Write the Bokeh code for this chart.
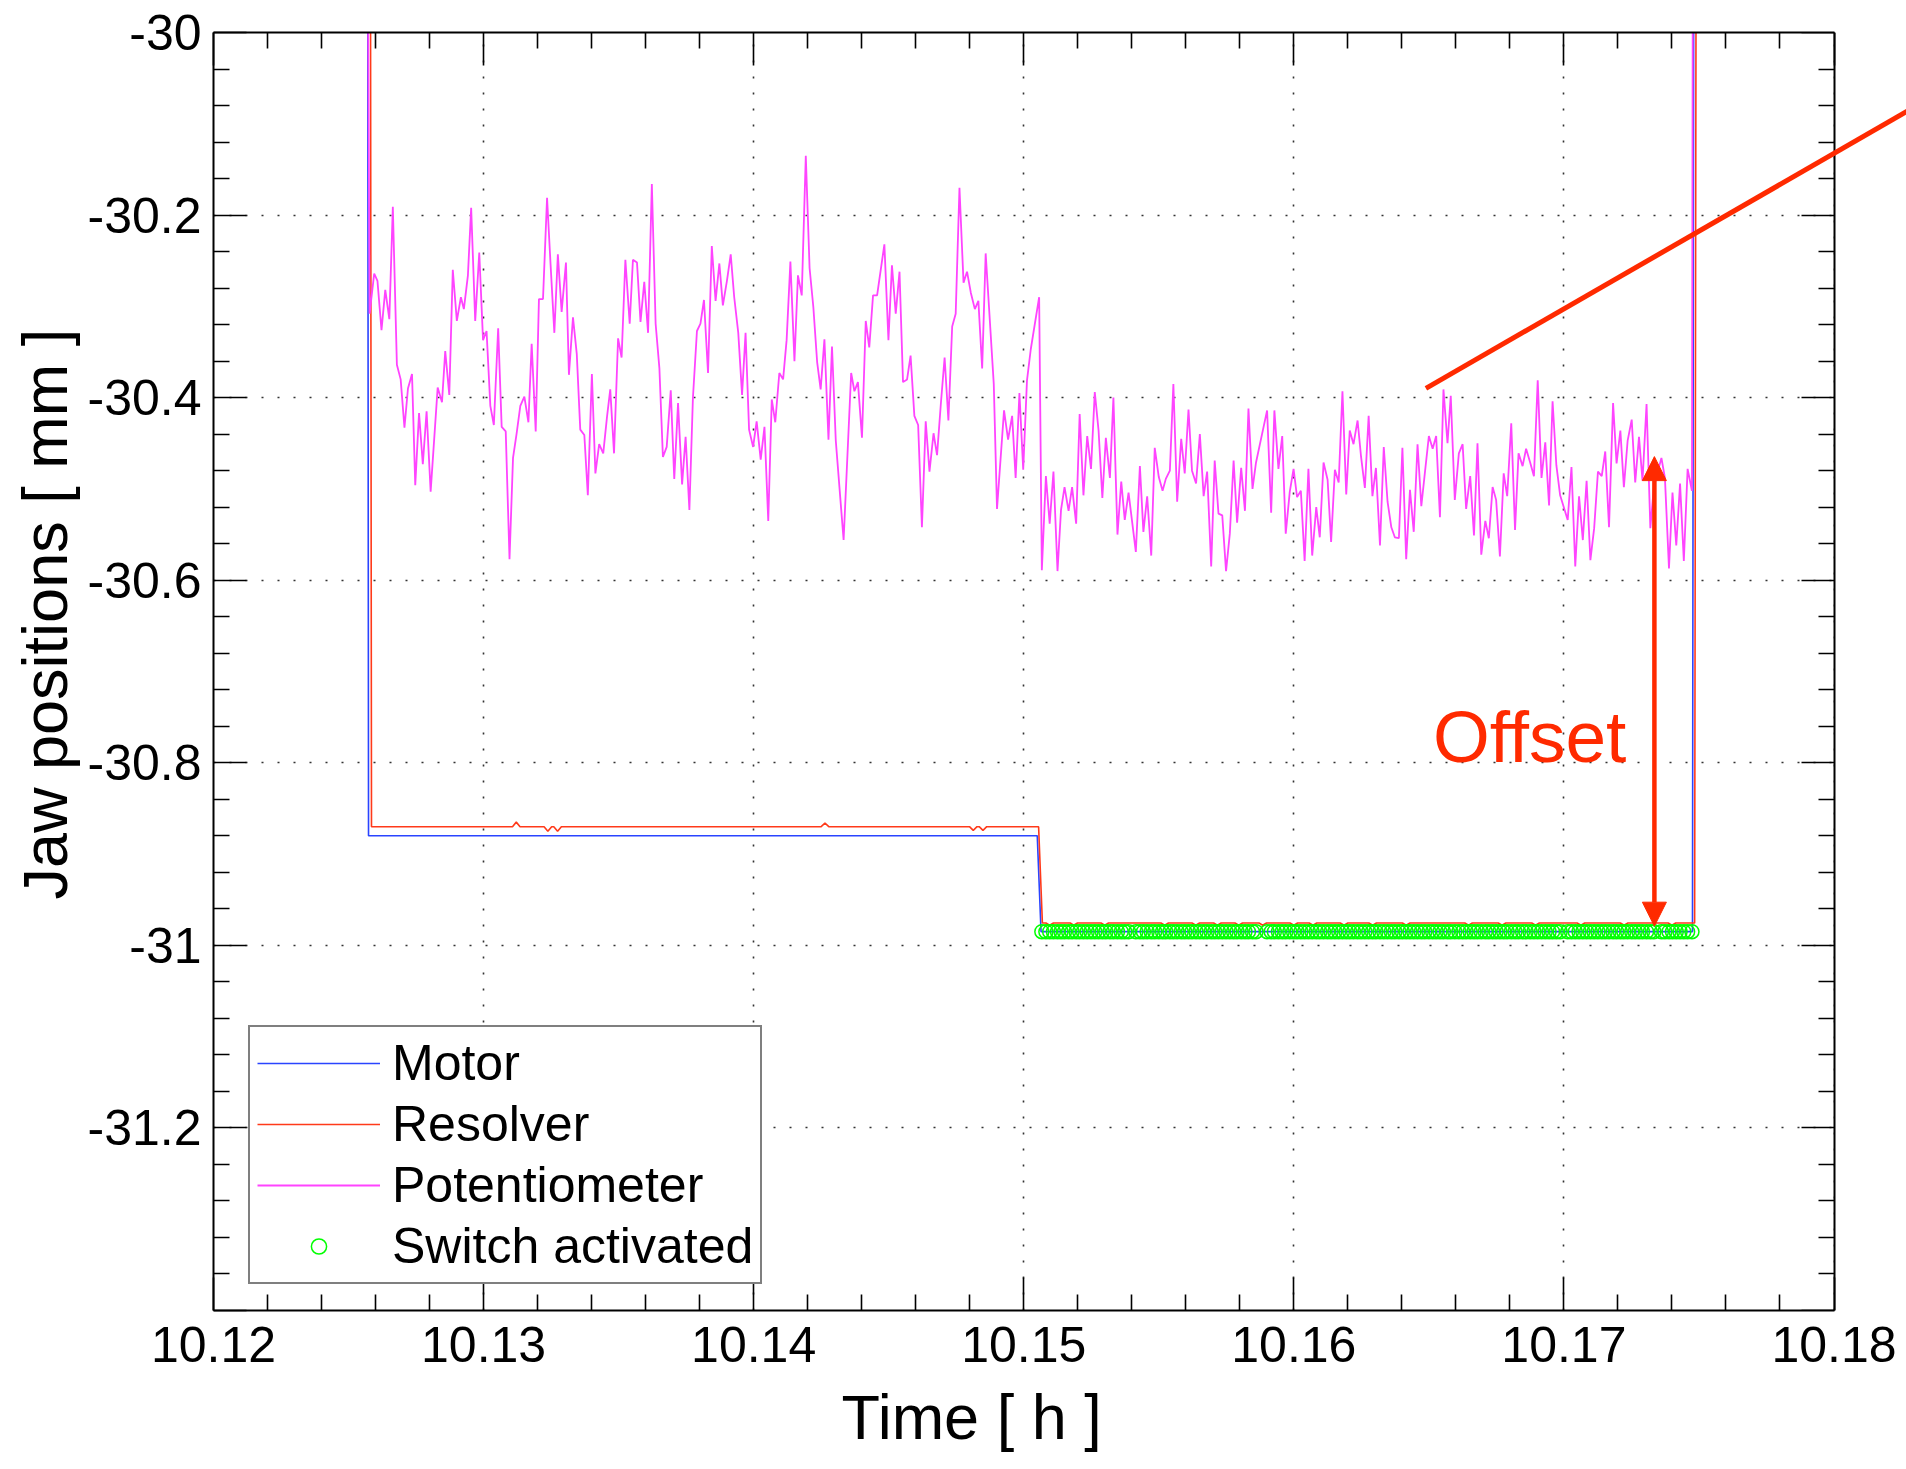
from bokeh.plotting import figure
from bokeh.models import (Range1d, FixedTicker, LinearAxis, Legend, LegendItem, Label,
                          Arrow, NormalHead, CustomJSTickFormatter, ColumnDataSource,
                          BoxAnnotation, Title)
from bokeh.embed import file_html
from bokeh.resources import INLINE

# ---------------- data ----------------
x_major_ticks = [10.12, 10.13, 10.14, 10.15, 10.16, 10.17, 10.18]
x_minor_ticks = [10.122, 10.124, 10.126, 10.128, 10.132, 10.134, 10.136, 10.138,
                 10.142, 10.144, 10.146, 10.148, 10.152, 10.154, 10.156, 10.158,
                 10.162, 10.164, 10.166, 10.168, 10.172, 10.174, 10.176, 10.178]
y_major_ticks = [-31.4, -31.2, -31.0, -30.8, -30.6, -30.4, -30.2, -30.0]
y_minor_ticks = [-31.36, -31.32, -31.28, -31.24, -31.16, -31.12, -31.08, -31.04,
                 -30.96, -30.92, -30.88, -30.84, -30.76, -30.72, -30.68, -30.64,
                 -30.56, -30.52, -30.48, -30.44, -30.36, -30.32, -30.28, -30.24,
                 -30.16, -30.12, -30.08, -30.04]
x_axis_start, x_axis_end = 10.12, 10.18
y_axis_start, y_axis_end = -31.4, -30.0
x_title = "Time [ h ]"
y_title = "Jaw positions [ mm ]"

motor_t = [10.12570, 10.12574, 10.15050, 10.15064, 10.17476, 10.17482]
motor_y = [-29.6, -30.880, -30.880, -30.985, -30.985, -29.6]

resolver_high_t = [10.12580, 10.12585, 10.13107, 10.13121, 10.13135, 10.13224, 10.13238,
                   10.13252, 10.13260, 10.13274, 10.13288, 10.14250, 10.14264, 10.14278,
                   10.14799, 10.14813, 10.14827, 10.14835, 10.14849, 10.14863, 10.15055]
resolver_high_y = [-29.6, -30.870, -30.870, -30.865, -30.870, -30.870, -30.875,
                   -30.870, -30.870, -30.875, -30.870, -30.870, -30.866, -30.870,
                   -30.870, -30.874, -30.870, -30.870, -30.874, -30.870, -30.870]
resolver_low_t = [10.15069,
                  10.15082, 10.15096, 10.15110, 10.15172, 10.15185, 10.15199,
                  10.15286, 10.15300, 10.15314, 10.15508, 10.15522, 10.15536,
                  10.15623, 10.15637, 10.15651, 10.15703, 10.15717, 10.15731,
                  10.15782, 10.15796, 10.15810, 10.15871, 10.15885, 10.15899,
                  10.15986, 10.16000, 10.16014, 10.16057, 10.16071, 10.16085,
                  10.16172, 10.16186, 10.16200, 10.16278, 10.16292, 10.16306,
                  10.16402, 10.16416, 10.16430, 10.16633, 10.16647, 10.16661,
                  10.16757, 10.16771, 10.16785, 10.16881, 10.16895, 10.16909,
                  10.17049, 10.17063, 10.17077, 10.17209, 10.17223, 10.17237,
                  10.17386, 10.17400, 10.17414,
                  10.17484, 10.17491]
resolver_low_y = [-30.9755,
                  -30.9755, -30.978, -30.9755, -30.9755, -30.978, -30.9755,
                  -30.9755, -30.978, -30.9755, -30.9755, -30.978, -30.9755,
                  -30.9755, -30.978, -30.9755, -30.9755, -30.978, -30.9755,
                  -30.9755, -30.978, -30.9755, -30.9755, -30.978, -30.9755,
                  -30.9755, -30.978, -30.9755, -30.9755, -30.978, -30.9755,
                  -30.9755, -30.978, -30.9755, -30.9755, -30.978, -30.9755,
                  -30.9755, -30.978, -30.9755, -30.9755, -30.978, -30.9755,
                  -30.9755, -30.978, -30.9755, -30.9755, -30.978, -30.9755,
                  -30.9755, -30.978, -30.9755, -30.9755, -30.978, -30.9755,
                  -30.9755, -30.978, -30.9755,
                  -30.9755, -29.6]

pot_t_start = [10.12566]
pot_y_start = [-29.6]
pot_t_a = [10.12578, 10.12595, 10.12607, 10.12622, 10.12636, 10.12651, 10.12664, 10.12679, 10.12693, 10.12707,
           10.12720, 10.12735, 10.12747, 10.12761, 10.12775, 10.12789, 10.12804, 10.12830, 10.12846, 10.12858,
           10.12873, 10.12886, 10.12901, 10.12916, 10.12927, 10.12942, 10.12954, 10.12969, 10.12984, 10.12998,
           10.13011, 10.13025, 10.13038, 10.13054, 10.13067, 10.13082, 10.13096, 10.13109, 10.13122, 10.13136,
           10.13151, 10.13166, 10.13178, 10.13193, 10.13205, 10.13220, 10.13235, 10.13248, 10.13262, 10.13275,
           10.13289, 10.13305, 10.13316, 10.13331, 10.13345, 10.13358, 10.13373, 10.13386, 10.13401, 10.13414,
           10.13428, 10.13443, 10.13457, 10.13469, 10.13483, 10.13498, 10.13511, 10.13525]
pot_y_a = [-30.308, -30.264, -30.272, -30.326, -30.282, -30.314, -30.191, -30.364, -30.380, -30.433,
           -30.390, -30.374, -30.496, -30.417, -30.473, -30.415, -30.503, -30.389, -30.405, -30.349,
           -30.397, -30.260, -30.316, -30.290, -30.303, -30.266, -30.192, -30.316, -30.241, -30.337,
           -30.327, -30.409, -30.430, -30.324, -30.432, -30.437, -30.577, -30.466, -30.440, -30.409,
           -30.399, -30.427, -30.341, -30.437, -30.292, -30.292, -30.181, -30.254, -30.329, -30.243,
           -30.306, -30.252, -30.375, -30.312, -30.352, -30.435, -30.441, -30.507, -30.374, -30.483,
           -30.451, -30.461, -30.421, -30.391, -30.461, -30.335, -30.356, -30.249]
pot_t_b = [10.13541, 10.13553, 10.13568, 10.13581, 10.13595, 10.13609, 10.13623, 10.13637, 10.13651, 10.13664,
           10.13678, 10.13693, 10.13706, 10.13720, 10.13735, 10.13748, 10.13762, 10.13775, 10.13790, 10.13803,
           10.13816, 10.13831, 10.13845, 10.13859, 10.13873, 10.13886, 10.13901, 10.13915, 10.13928, 10.13943,
           10.13957, 10.13970, 10.13983, 10.13998, 10.14011, 10.14026, 10.14040, 10.14054, 10.14067, 10.14080,
           10.14095, 10.14109, 10.14122, 10.14136, 10.14151, 10.14164, 10.14178, 10.14193, 10.14207, 10.14221,
           10.14235, 10.14248, 10.14262, 10.14277, 10.14290, 10.14304, 10.14333, 10.14361, 10.14373, 10.14386,
           10.14401, 10.14415, 10.14428, 10.14442, 10.14457, 10.14484, 10.14499, 10.14512, 10.14526]
pot_y_b = [-30.319, -30.249, -30.252, -30.317, -30.273, -30.329, -30.166, -30.319, -30.368, -30.465,
           -30.454, -30.392, -30.489, -30.406, -30.495, -30.443, -30.523, -30.401, -30.327, -30.319,
           -30.293, -30.373, -30.234, -30.294, -30.253, -30.299, -30.272, -30.243, -30.290, -30.329,
           -30.397, -30.329, -30.435, -30.454, -30.426, -30.468, -30.432, -30.535, -30.402, -30.427,
           -30.373, -30.380, -30.337, -30.251, -30.360, -30.266, -30.288, -30.135, -30.258, -30.301,
           -30.361, -30.391, -30.336, -30.446, -30.344, -30.447, -30.556, -30.373, -30.393, -30.383,
           -30.444, -30.316, -30.345, -30.288, -30.288, -30.232, -30.337, -30.255, -30.308]
pot_t_c = [10.14540, 10.14553, 10.14568, 10.14581, 10.14595, 10.14609, 10.14623, 10.14637, 10.14651, 10.14666,
           10.14679, 10.14693, 10.14707, 10.14721, 10.14735, 10.14748, 10.14762, 10.14777, 10.14790, 10.14804,
           10.14819, 10.14832, 10.14846, 10.14859, 10.14889, 10.14901, 10.14927, 10.14942, 10.14957, 10.14970,
           10.14984, 10.14998, 10.15012, 10.15026, 10.15057, 10.15067, 10.15082, 10.15096, 10.15110, 10.15125,
           10.15138, 10.15151, 10.15166, 10.15179, 10.15194, 10.15207, 10.15221, 10.15235, 10.15249, 10.15263,
           10.15277, 10.15291, 10.15304, 10.15319, 10.15332, 10.15347, 10.15361, 10.15374, 10.15388, 10.15415,
           10.15430, 10.15443, 10.15457, 10.15472, 10.15485, 10.15500, 10.15514, 10.15526]
pot_y_c = [-30.262, -30.383, -30.380, -30.354, -30.420, -30.430, -30.542, -30.426, -30.481, -30.439,
           -30.463, -30.407, -30.356, -30.425, -30.322, -30.308, -30.170, -30.274, -30.262, -30.285,
           -30.303, -30.294, -30.368, -30.242, -30.385, -30.522, -30.414, -30.446, -30.420, -30.488,
           -30.395, -30.479, -30.381, -30.347, -30.290, -30.589, -30.486, -30.538, -30.481, -30.590,
           -30.523, -30.498, -30.524, -30.498, -30.538, -30.418, -30.507, -30.442, -30.478, -30.394,
           -30.436, -30.510, -30.444, -30.488, -30.400, -30.550, -30.492, -30.534, -30.504, -30.569,
           -30.475, -30.547, -30.508, -30.573, -30.455, -30.487, -30.502, -30.489]
pot_t_d = [10.15541, 10.15554, 10.15568, 10.15583, 10.15596, 10.15610, 10.15623, 10.15638, 10.15652, 10.15666,
           10.15679, 10.15694, 10.15707, 10.15721, 10.15735, 10.15749, 10.15763, 10.15777, 10.15790, 10.15805,
           10.15819, 10.15832, 10.15847, 10.15860, 10.15901, 10.15916, 10.15928, 10.15943, 10.15957, 10.15970,
           10.15985, 10.15999, 10.16012, 10.16026, 10.16040, 10.16054, 10.16068, 10.16083, 10.16096, 10.16110,
           10.16125, 10.16138, 10.16152, 10.16166, 10.16180, 10.16194, 10.16207, 10.16221, 10.16236, 10.16249,
           10.16263, 10.16277, 10.16291, 10.16304, 10.16319, 10.16333, 10.16347, 10.16361, 10.16374, 10.16389,
           10.16402, 10.16416, 10.16430, 10.16444, 10.16458, 10.16472, 10.16485, 10.16500, 10.16514, 10.16527]
pot_y_d = [-30.480, -30.385, -30.514, -30.445, -30.483, -30.413, -30.480, -30.494, -30.440, -30.508,
           -30.481, -30.585, -30.469, -30.527, -30.529, -30.590, -30.549, -30.469, -30.537, -30.477,
           -30.524, -30.412, -30.500, -30.471, -30.414, -30.526, -30.414, -30.478, -30.442, -30.549,
           -30.503, -30.478, -30.509, -30.502, -30.579, -30.478, -30.573, -30.520, -30.553, -30.471,
           -30.490, -30.558, -30.479, -30.493, -30.393, -30.506, -30.436, -30.451, -30.425, -30.465,
           -30.499, -30.420, -30.508, -30.477, -30.562, -30.454, -30.514, -30.542, -30.553, -30.554,
           -30.455, -30.577, -30.501, -30.547, -30.451, -30.519, -30.483, -30.442, -30.456, -30.442]
pot_t_e = [10.16541, 10.16554, 10.16569, 10.16581, 10.16596, 10.16611, 10.16625, 10.16638, 10.16653, 10.16667,
           10.16680, 10.16694, 10.16709, 10.16722, 10.16736, 10.16749, 10.16763, 10.16777, 10.16790, 10.16805,
           10.16819, 10.16832, 10.16847, 10.16860, 10.16875, 10.16889, 10.16903, 10.16917, 10.16931, 10.16945,
           10.16958, 10.16972, 10.16986, 10.17014, 10.17028, 10.17042, 10.17056, 10.17070, 10.17084, 10.17098,
           10.17112, 10.17126, 10.17140, 10.17153, 10.17167, 10.17182, 10.17195, 10.17209, 10.17222, 10.17236,
           10.17251, 10.17264, 10.17278, 10.17291, 10.17306, 10.17320, 10.17333, 10.17361, 10.17374, 10.17389,
           10.17402, 10.17416, 10.17430, 10.17444, 10.17458, 10.17474]
pot_y_e = [-30.531, -30.391, -30.450, -30.398, -30.512, -30.461, -30.451, -30.522, -30.486, -30.551,
           -30.450, -30.572, -30.535, -30.554, -30.498, -30.512, -30.574, -30.483, -30.508, -30.428,
           -30.545, -30.461, -30.475, -30.456, -30.471, -30.486, -30.381, -30.488, -30.449, -30.518,
           -30.404, -30.474, -30.507, -30.534, -30.476, -30.585, -30.508, -30.556, -30.491, -30.578,
           -30.543, -30.481, -30.486, -30.459, -30.542, -30.406, -30.472, -30.436, -30.498, -30.447,
           -30.424, -30.493, -30.443, -30.491, -30.407, -30.543, -30.498, -30.466, -30.488, -30.587,
           -30.504, -30.562, -30.494, -30.579, -30.478, -30.502]
pot_t_end = [10.17479]
pot_y_end = [-29.6]

switch_on_start = 10.15067
switch_on_end = 10.17474
switch_level = -30.985

# annotation positions (data units)
pointer_x = [10.16489, 10.18274]
pointer_y = [-30.3898, -30.0858]
offset_arrow_x = 10.17335
offset_arrow_y = [-30.979, -30.4646]
offset_text_pos = (10.16515, -30.771)

# ---------------- assemble ----------------
pot_t = pot_t_start + pot_t_a + pot_t_b + pot_t_c + pot_t_d + pot_t_e + pot_t_end
pot_y = pot_y_start + pot_y_a + pot_y_b + pot_y_c + pot_y_d + pot_y_e + pot_y_end
assert len(pot_t) == len(pot_y)
res_t = resolver_high_t + resolver_low_t
res_y = resolver_high_y + resolver_low_y
assert len(res_t) == len(res_y)
sw_t = [t for t in pot_t if switch_on_start <= t <= switch_on_end]
sw_y = [switch_level for _ in sw_t]

FONT = "Liberation Sans"
BLUE = "#2a44ff"
RES_RED = "#ff3a1a"
MAGENTA = "#ff44ff"
GREEN = "#00ff00"
ANN_RED = "#ff2a00"

# layout: canvas 1906x1469; axes box 213..1833 x 32..1310 px.
W, H = 1906, 1469
BOX_LEFT, BOX_TOP, BOX_BOTTOM = 213, 32, 159
BOX_W = 1620.5
frame_w = W - BOX_LEFT
# the plotting frame runs to the canvas right edge, so the pointer line can leave the box
x_view_end = x_axis_start + (x_axis_end - x_axis_start) * frame_w / BOX_W

p = figure(width=W, height=H, output_backend="svg", toolbar_location=None,
           x_range=Range1d(x_axis_start, x_view_end), y_range=Range1d(y_axis_start, y_axis_end),
           min_border_left=BOX_LEFT, min_border_right=0, min_border_top=BOX_TOP,
           min_border_bottom=BOX_BOTTOM)
p.background_fill_color = "white"
p.border_fill_color = "white"
p.outline_line_color = None

fmt = CustomJSTickFormatter(code="""
if (tick < -31.3) { return ""; }
let s = tick.toFixed(2);
s = s.replace(/0+$/, "").replace(/\\.$/, "");
return s;
""")
blank_fmt = CustomJSTickFormatter(code='return "";')

x_ticker = FixedTicker(ticks=x_major_ticks, minor_ticks=x_minor_ticks)
y_ticker = FixedTicker(ticks=y_major_ticks, minor_ticks=y_minor_ticks)


def style_axis(ax, ticker, show_labels):
    ax.ticker = ticker
    ax.axis_line_color = "black"
    ax.axis_line_width = 2
    ax.major_tick_in = 33
    ax.major_tick_out = 0
    ax.minor_tick_in = 16
    ax.minor_tick_out = 0
    ax.major_tick_line_width = 1.6
    ax.minor_tick_line_width = 1.6
    ax.major_tick_line_color = "black"
    ax.minor_tick_line_color = "black"
    if show_labels:
        ax.formatter = fmt
        ax.major_label_text_font = FONT
        ax.major_label_text_font_size = "50px"
        ax.major_label_text_color = "black"
    else:
        ax.formatter = blank_fmt
        ax.major_label_standoff = 0


xa = p.xaxis[0]
ya = p.yaxis[0]
style_axis(xa, x_ticker, True)
style_axis(ya, y_ticker, True)
xa.bounds = (x_axis_start, x_axis_end)
ya.bounds = (y_axis_start, y_axis_end)
xa.major_label_standoff = 16
ya.major_label_standoff = 12

top_ax = LinearAxis(bounds=(x_axis_start, x_axis_end))
style_axis(top_ax, x_ticker, False)
p.add_layout(top_ax, "above")
right_ax = LinearAxis(fixed_location=x_axis_end, bounds=(y_axis_start, y_axis_end))
style_axis(right_ax, y_ticker, False)
p.add_layout(right_ax, "right")

# axis titles as side-panel titles so they can sit off-centre like the reference
p.add_layout(Title(text=x_title, align="left", offset=628, standoff=30,
                   text_font=FONT, text_font_size="63px", text_font_style="normal",
                   text_color="black"), "below")
p.add_layout(Title(text=y_title, align="left", offset=411, standoff=10,
                   text_font=FONT, text_font_size="63px", text_font_style="normal",
                   text_color="black"), "left")

for g in (p.xgrid[0], p.ygrid[0]):
    g.grid_line_color = "#333333"
    g.grid_line_width = 1.6
    g.grid_line_dash = "2 14"
p.xgrid[0].ticker = x_ticker
p.ygrid[0].ticker = y_ticker

# blank the part of the frame that lies right of the axes box
p.add_layout(BoxAnnotation(left=x_axis_end, fill_color="white", fill_alpha=1.0,
                           line_color=None, level="underlay"))

r_motor = p.line(x="t", y="y", source=ColumnDataSource(dict(t=motor_t, y=motor_y)),
                 line_color=BLUE, line_width=1.6)
r_res = p.line(x="t", y="y", source=ColumnDataSource(dict(t=res_t, y=res_y)),
               line_color=RES_RED, line_width=1.6)
r_pot = p.line(x="t", y="y", source=ColumnDataSource(dict(t=pot_t, y=pot_y)),
               line_color=MAGENTA, line_width=1.8)
r_sw = p.scatter(x="t", y="y", source=ColumnDataSource(dict(t=sw_t, y=sw_y)),
                 marker="circle", size=14, fill_color=None, line_color=GREEN, line_width=1.5)

legend = Legend(items=[LegendItem(label="Motor", renderers=[r_motor]),
                       LegendItem(label="Resolver", renderers=[r_res]),
                       LegendItem(label="Potentiometer", renderers=[r_pot]),
                       LegendItem(label="Switch activated", renderers=[r_sw])],
                location=(35, 26), margin=0, padding=7, spacing=3,
                glyph_width=123, glyph_height=38, label_height=56, label_standoff=12,
                label_text_font=FONT, label_text_font_size="50px", label_text_color="black",
                border_line_color="black", border_line_width=2,
                background_fill_color="white", background_fill_alpha=1.0)
p.add_layout(legend)

p.add_layout(Arrow(start=None, end=None, x_start=pointer_x[0], y_start=pointer_y[0],
                   x_end=pointer_x[1], y_end=pointer_y[1], line_color=ANN_RED, line_width=5))
p.add_layout(Arrow(start=NormalHead(size=24, fill_color=ANN_RED, line_color=ANN_RED),
                   end=NormalHead(size=24, fill_color=ANN_RED, line_color=ANN_RED),
                   x_start=offset_arrow_x, y_start=offset_arrow_y[0],
                   x_end=offset_arrow_x, y_end=offset_arrow_y[1],
                   line_color=ANN_RED, line_width=4.5))
p.add_layout(Label(x=offset_text_pos[0], y=offset_text_pos[1], text="Offset",
                   text_font=FONT, text_font_size="73px", text_color=ANN_RED,
                   text_align="left", text_baseline="alphabetic"))

open("out.html", "w").write(file_html(p, INLINE))
